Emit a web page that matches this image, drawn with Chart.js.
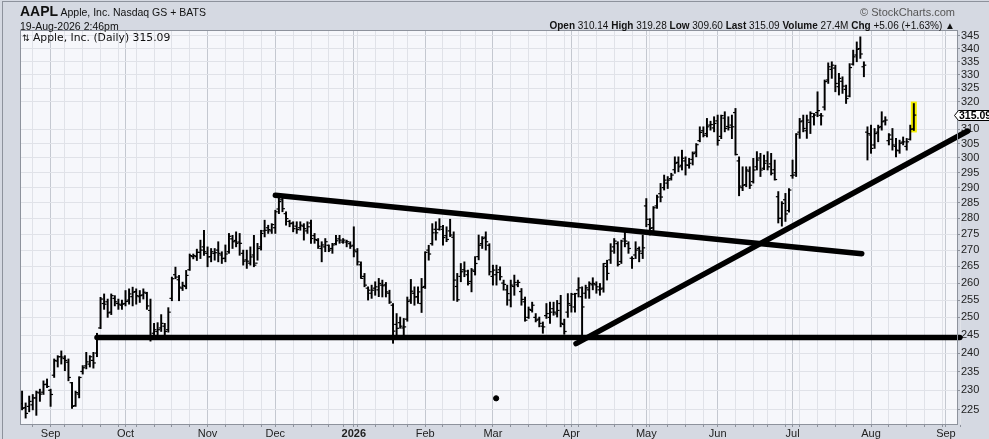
<!DOCTYPE html>
<html>
<head>
<meta charset="utf-8">
<title>AAPL Daily</title>
<script src="https://cdn.jsdelivr.net/npm/chart.js"></script>
<style>
  html, body { margin: 0; padding: 0; }
  body { width: 989px; height: 439px; background: #d5d9e2; position: relative; overflow: hidden;
         font-family: "Liberation Sans", Arial, sans-serif; color: #111; }
  #box { position: absolute; left: 0; top: 0; width: 989px; height: 439px; }
  #frame { position: absolute; left: 2px; top: 1px; width: 1000px; height: 500px;
           border-top: 1px solid #8d929c; border-left: 1px solid #8d929c; }
  .t { position: absolute; white-space: nowrap; font-size: 10.5px; line-height: 12px; }
  #sym { left: 20px; top: 5px; }
  #sym b { font-size: 14px; }
  #date { left: 20px; top: 20px; }
  #copy { right: 34px; top: 6px; color: #555; font-size: 11px; }
  #stats { right: 34px; top: 20px; font-size: 10px; }
  #legend { left: 22px; top: 32px; font-family: "DejaVu Sans"; font-size: 10.8px; }
  #legend span { font-size: 9px; }
</style>
</head>
<body>
<div id="box"><canvas id="ohlcChart"></canvas></div>
<div id="frame"></div>
<div class="t" id="sym"><b>AAPL</b> Apple, Inc. Nasdaq GS + BATS</div>
<div class="t" id="date">19-Aug-2026 2:46pm</div>
<div class="t" id="copy">© StockCharts.com</div>
<div class="t" id="stats"><b>Open</b> 310.14 <b>High</b> 319.28 <b>Low</b> 309.60 <b>Last</b> 315.09 <b>Volume</b> 27.4M <b>Chg</b> +5.06 (+1.63%) ▲</div>
<div class="t" id="legend"><span>⇅</span> Apple, Inc. (Daily) 315.09</div>

<script>
  // daily bars from 20-Aug-2025 to 19-Aug-2026 (one entry per trading day)
  const opens = [
    226.5,225.5,225.8,226.2,228.0,229.3,229.5,231.6,230.0,234.0,237.8,239.0,238.5,237.5,232.0,226.0,229.0,235.0,236.5,237.0,
    238.0,240.0,247.0,254.0,254.5,251.5,255.5,254.0,253.5,254.0,255.0,256.0,257.5,256.0,256.5,257.0,252.0,245.5,246.0,247.0,
    247.5,246.5,255.5,262.5,261.0,258.5,259.0,264.0,268.0,268.0,269.3,271.0,269.0,268.0,269.0,270.0,268.5,267.5,269.5,273.5,
    273.0,272.5,269.0,267.0,266.0,268.5,266.0,271.0,276.0,277.0,276.0,277.0,283.0,286.0,281.5,279.0,278.5,277.5,277.0,277.5,
    276.0,278.5,274.5,273.0,270.5,271.0,271.5,270.5,272.0,273.5,272.5,272.5,272.0,271.5,269.5,265.5,262.0,258.5,257.0,258.5,
    258.0,259.4,259.5,257.0,253.5,248.0,248.5,247.0,249.5,255.0,257.0,256.0,254.0,259.0,270.0,272.0,276.5,276.5,276.5,274.5,
    276.0,274.0,259.0,262.0,264.0,262.5,260.5,263.5,268.0,272.0,274.0,271.5,262.0,262.5,264.0,260.0,258.0,255.0,259.0,259.5,
    257.5,254.5,250.0,252.0,250.0,249.5,247.5,250.5,250.0,252.5,251.0,254.0,248.0,251.5,253.5,253.0,258.0,256.0,257.0,258.0,
    259.5,259.5,258.0,258.5,265.0,267.0,271.0,272.0,266.5,273.5,272.0,267.5,268.5,270.5,269.0,284.0,278.0,277.0,284.0,288.0,
    290.0,291.5,293.0,296.0,298.5,297.5,299.0,297.5,299.5,302.0,306.0,309.5,308.5,311.5,310.5,313.0,307.5,314.0,311.0,311.5,
    316.0,299.0,290.0,291.0,295.5,292.0,297.0,300.0,296.5,299.0,298.0,296.0,287.0,280.0,286.0,282.5,294.0,295.0,309.0,313.0,
    309.5,312.5,314.5,316.0,315.0,318.0,328.0,332.0,332.5,325.5,327.5,324.5,322.0,334.0,337.5,340.0,333.0,309.0,308.0,304.5,
    309.0,311.0,313.0,306.0,306.5,304.0,302.5,305.5,304.0,306.5,310.14
  ];
  const highs = [
    229.8,226.7,228.5,228.9,229.8,230.3,232.5,233.0,230.3,238.4,239.3,240.6,239.3,238.4,232.1,229.8,233.6,236.6,240.2,239.3,
    240.2,245.5,255.8,256.8,255.3,256.8,256.3,255.3,255.0,257.8,258.3,258.8,258.3,257.8,258.3,257.3,255.3,248.3,248.5,250.8,
    248.3,252.8,261.8,264.8,262.3,260.3,263.8,268.8,268.8,270.3,273.1,276.2,271.0,270.5,270.5,272.6,269.5,271.6,275.2,274.6,
    275.7,275.2,270.0,270.0,271.0,274.6,272.1,276.2,279.4,277.8,278.3,282.6,287.1,286.6,282.1,279.4,278.9,278.9,278.9,278.3,
    278.9,279.4,275.2,273.6,272.6,273.6,271.6,272.1,274.6,274.6,273.6,273.1,272.6,277.3,270.5,266.4,262.9,258.9,259.4,260.4,
    261.4,260.9,260.2,257.9,254.0,251.1,250.1,249.7,255.9,261.1,258.9,258.9,261.4,269.5,271.5,278.3,278.9,279.9,277.8,277.3,
    279.7,275.7,262.9,265.9,266.4,263.9,264.4,268.0,274.7,274.2,275.7,272.0,265.4,265.4,264.9,260.9,259.4,260.9,262.4,260.9,
    258.4,255.9,253.0,254.4,251.1,250.1,248.7,254.0,254.4,254.4,254.9,256.4,249.5,256.9,257.0,257.0,261.6,258.9,259.4,260.4,
    261.6,260.4,259.9,265.9,266.9,272.0,273.6,272.6,273.1,275.7,272.6,268.0,272.6,271.0,274.7,286.4,279.9,283.8,287.5,291.4,
    294.2,293.7,294.8,300.4,300.4,302.7,300.4,299.9,302.1,305.0,310.9,310.9,313.9,312.9,314.5,315.1,315.1,316.3,314.5,315.1,
    317.5,300.4,297.0,297.0,297.0,299.9,302.2,301.6,301.0,302.2,301.6,299.3,288.7,285.4,288.1,289.7,299.3,308.5,313.9,315.1,
    315.1,316.3,315.7,323.6,315.7,328.0,334.5,334.9,333.6,330.5,329.2,326.1,334.2,339.4,342.6,344.6,334.9,310.9,311.5,310.3,
    311.5,316.3,314.5,308.5,310.3,306.8,306.2,307.3,306.8,311.5,319.28
  ];
  const lows = [
    224.9,222.8,224.4,224.9,223.5,227.1,228.9,230.7,225.8,233.4,236.2,237.0,235.2,232.5,225.3,225.8,228.0,234.3,235.7,236.2,
    235.9,239.0,246.8,252.3,250.0,250.8,253.3,252.3,252.3,253.3,253.8,253.3,253.8,254.3,255.3,252.3,243.3,245.0,245.0,246.0,
    245.0,245.8,254.8,261.3,254.8,257.8,258.3,263.8,267.3,266.8,267.4,268.4,264.9,266.4,266.9,266.4,265.9,266.4,269.0,270.5,
    271.0,268.4,265.4,264.4,265.4,264.9,266.9,270.0,274.1,275.2,275.2,275.2,281.5,282.1,277.8,277.3,275.7,275.2,276.2,273.1,
    275.2,272.1,272.1,270.5,266.4,269.5,269.5,269.0,271.6,272.1,272.1,271.0,270.5,267.9,265.4,261.4,258.9,255.0,255.5,256.4,
    256.0,255.9,255.9,254.0,242.7,245.0,246.9,245.0,248.9,254.0,253.5,254.0,251.4,258.4,266.9,271.5,273.1,276.2,271.5,272.6,
    274.2,254.9,254.6,260.4,261.9,259.4,257.4,262.4,267.0,270.5,270.0,262.4,259.4,259.4,260.9,257.9,253.5,253.0,256.4,258.9,
    253.5,248.9,249.7,251.5,248.7,247.3,245.5,249.7,248.3,250.6,250.1,247.3,245.2,250.0,251.5,251.5,255.9,244.1,255.5,255.5,
    258.0,257.0,256.4,257.3,260.9,265.9,269.0,265.1,265.9,271.0,269.0,264.4,267.4,266.4,267.4,277.3,274.7,275.7,283.2,285.3,
    289.2,289.7,292.5,294.8,295.3,295.9,294.2,296.5,297.6,300.4,305.6,307.3,307.3,309.7,309.1,304.4,306.7,309.1,309.7,306.7,
    301.0,287.3,289.0,290.3,289.7,291.5,295.9,293.7,296.0,295.9,294.2,292.5,278.5,277.5,279.0,282.0,293.1,293.7,306.8,309.1,
    306.8,308.5,311.5,314.5,311.5,316.9,326.7,328.6,323.6,322.4,323.0,319.3,321.7,333.6,334.9,336.2,329.2,299.3,301.6,303.3,
    305.6,309.7,311.5,304.5,302.7,300.4,301.6,304.5,302.7,306.2,309.60
  ];
  const closes = [
    225.3,224.0,227.1,228.0,229.5,229.0,231.5,231.0,228.9,238.0,239.0,238.9,238.0,233.4,225.8,229.4,233.4,236.0,237.6,239.0,
    237.3,244.7,255.3,253.8,251.3,256.3,254.5,253.8,253.8,254.6,256.8,257.3,256.3,256.3,257.3,253.3,244.2,246.5,246.5,248.3,
    246.0,251.5,261.3,261.8,258.8,259.3,262.3,268.3,268.3,269.3,270.0,269.5,267.9,269.5,269.2,269.0,267.4,268.8,274.3,272.6,
    272.1,272.1,266.6,266.6,267.9,265.4,270.5,275.2,276.2,276.4,278.0,282.1,285.4,283.1,279.9,278.3,276.7,276.4,277.8,276.7,
    277.3,273.6,273.3,271.2,271.6,272.6,270.0,271.6,272.9,273.1,273.1,272.6,271.2,270.0,266.4,261.4,259.4,257.9,257.9,258.9,
    259.9,259.2,257.4,254.4,246.1,246.9,247.5,247.3,254.6,257.6,255.9,257.4,258.7,269.3,268.8,275.4,275.4,277.3,273.9,273.3,
    274.7,260.9,255.1,263.4,263.6,259.9,263.9,265.9,271.5,273.6,272.6,263.4,263.9,263.2,261.9,259.6,256.9,259.4,260.2,260.2,
    255.2,249.2,252.3,253.5,249.2,248.3,247.3,251.1,251.5,251.5,252.0,248.3,246.0,254.0,256.7,256.9,258.6,253.0,258.6,259.9,
    259.9,258.9,258.2,265.9,262.9,269.7,272.8,265.6,272.8,272.8,270.5,267.4,270.0,269.7,270.7,279.7,276.8,283.4,286.9,286.9,
    292.5,292.5,294.2,298.2,297.0,299.9,297.6,298.2,301.5,304.6,308.9,307.9,310.9,311.7,312.1,306.1,314.9,310.3,310.7,310.9,
    301.2,290.5,290.8,295.9,290.8,295.9,299.3,295.9,298.2,297.0,294.8,292.7,280.0,284.8,281.4,289.2,294.2,308.3,312.7,310.3,
    313.3,315.7,315.1,316.7,314.8,327.4,333.0,333.6,326.7,328.6,325.7,321.1,332.7,336.8,339.7,337.9,333.6,308.5,303.3,308.5,
    310.6,312.7,313.3,308.0,304.5,302.7,305.1,305.6,305.6,310.03,315.09
  ];
  const lastPrice = 315.09;

  // hand-drawn annotations: [barIndex, price]
  const supportLine = [[21, 244.3], [262.9, 244.3]];
  const resistanceLine = [[71, 287.5], [235.4, 268.9]];
  const upTrendLine = [[155.3, 242.6], [265.1, 309.4]];
  const markerDot = [[132.9, 227.9]];

  const priceTicks = [225,230,235,240,245,250,255,260,265,270,275,280,285,290,295,300,305,310,320,325,330,335,340,345];
  const monthNames = ['Jan','Feb','Mar','Apr','May','Jun','Jul','Aug','Sep','Oct','Nov','Dec'];
  const holidays = ['2025-09-01','2025-11-27','2025-12-25','2026-01-01','2026-01-19','2026-02-16',
                    '2026-04-03','2026-05-25','2026-06-19','2026-07-03','2026-09-07'];

  // trading calendar, used for the time axis gridlines and month labels
  const days = [];
  const d = new Date(Date.UTC(2025, 7, 20));
  while (days.length < 266) {
    const dow = d.getUTCDay();
    const iso = d.toISOString().slice(0, 10);
    if (dow !== 0 && dow !== 6 && !holidays.includes(iso)) {
      days.push({ dow: dow, month: d.getUTCMonth(), year: d.getUTCFullYear() });
    }
    d.setUTCDate(d.getUTCDate() + 1);
  }
  const monthLabel = {};
  const gridIdx = [];
  for (let i = 1; i < days.length; i++) {
    const newMonth = days[i].month !== days[i - 1].month;
    const newWeek = days[i].dow < days[i - 1].dow;
    if (newMonth) monthLabel[i] = days[i].month === 0 ? String(days[i].year) : monthNames[days[i].month];
    if (newMonth || newWeek) gridIdx.push(i);
  }

  const toXY = pts => pts.map(p => ({ x: p[0], y: p[1] }));

  const plotBg = {
    id: 'plotBg',
    beforeDraw(chart) {
      const { ctx, chartArea: a } = chart;
      ctx.save();
      ctx.fillStyle = '#f6f7fb';
      ctx.fillRect(a.left, a.top, a.right - a.left, a.bottom - a.top);
      ctx.restore();
    },
    beforeDatasetsDraw(chart) {
      // yellow highlight behind the latest bar
      const { ctx, scales } = chart;
      const i = closes.length - 1;
      const x = scales.x.getPixelForValue(i);
      const yH = scales.y.getPixelForValue(highs[i]);
      const yL = scales.y.getPixelForValue(lows[i]);
      ctx.save();
      ctx.fillStyle = '#f4f000';
      ctx.fillRect(x - 3, yH - 2, 6, yL - yH + 4);
      ctx.restore();
    },
    afterDraw(chart) {
      const { ctx, chartArea: a, scales } = chart;
      ctx.save();
      ctx.strokeStyle = '#8d929c';
      ctx.lineWidth = 1;
      ctx.strokeRect(a.left - 0.5, a.top - 0.5, a.right - a.left + 1, a.bottom - a.top + 1);
      // last price tag on the price axis
      const y = Math.round(scales.y.getPixelForValue(lastPrice)) + 0.5;
      const x0 = a.right - 2.5;
      ctx.beginPath();
      ctx.moveTo(x0, y);
      ctx.lineTo(x0 + 4, y - 5);
      ctx.lineTo(992, y - 5);
      ctx.lineTo(992, y + 5);
      ctx.lineTo(x0 + 4, y + 5);
      ctx.closePath();
      ctx.fillStyle = '#ffffff';
      ctx.fill();
      ctx.strokeStyle = '#000';
      ctx.stroke();
      ctx.fillStyle = '#000';
      ctx.font = 'bold 10.5px "Liberation Sans", Arial, sans-serif';
      ctx.textBaseline = 'middle';
      ctx.fillText(lastPrice.toFixed(2), x0 + 4.5, y + 0.5);
      ctx.restore();
    }
  };

  const lineStyle = {
    type: 'line', borderColor: '#000', borderWidth: 5.5, borderCapStyle: 'round',
    pointRadius: 0, fill: false, clip: false, order: 0
  };

  new Chart(document.getElementById('ohlcChart'), {
    type: 'bar',
    data: {
      datasets: [
        { type: 'bar', data: highs.map((h, i) => ({ x: i, y: [lows[i], h] })),
          backgroundColor: '#000', barThickness: 1.3, grouped: false, order: 3 },
        { type: 'scatter', data: opens.map((o, i) => ({ x: i - 0.33, y: o })),
          pointStyle: 'line', pointRadius: 1.25, borderWidth: 1.2, borderColor: '#000', order: 2 },
        { type: 'scatter', data: closes.map((c, i) => ({ x: i + 0.33, y: c })),
          pointStyle: 'line', pointRadius: 1.25, borderWidth: 1.2, borderColor: '#000', order: 2 },
        Object.assign({ data: toXY(supportLine) }, lineStyle),
        Object.assign({ data: toXY(resistanceLine) }, lineStyle),
        Object.assign({ data: toXY(upTrendLine) }, lineStyle),
        { type: 'scatter', data: toXY(markerDot), pointRadius: 2.6, backgroundColor: '#000',
          borderColor: '#000', order: 0 }
      ]
    },
    options: {
      responsive: true,
      maintainAspectRatio: false,
      animation: false,
      events: [],
      layout: { padding: { left: 21, top: 31, right: 0, bottom: 0 } },
      plugins: { legend: { display: false }, tooltip: { enabled: false } },
      scales: {
        x: {
          type: 'linear', min: -0.3, max: 262.1, offset: false,
          afterBuildTicks: s => { s.ticks = gridIdx.map(v => ({ value: v })); },
          afterFit: s => { s.height = 15; },
          grid: {
            offset: false,
            color: c => (c.tick && monthLabel[c.tick.value]) ? '#c4c8d0' : '#e0e2e8',
            drawTicks: true, tickLength: 3, tickColor: '#8d929c'
          },
          border: { display: true, color: '#8d929c' },
          ticks: {
            autoSkip: false, maxRotation: 0, padding: 0, color: '#222',
            font: c => ({ size: 11, family: '"Liberation Sans", Arial, sans-serif',
                          weight: (c.tick && monthLabel[c.tick.value] === '2026') ? 'bold' : 'normal' }),
            callback: v => monthLabel[v] || ''
          }
        },
        y: {
          type: 'logarithmic', position: 'right', min: 221.3, max: 346.9,
          afterBuildTicks: s => { s.ticks = priceTicks.map(v => ({ value: v })); },
          afterFit: s => { s.width = 32; },
          grid: { color: '#e0e2e8', drawTicks: true, tickLength: 3, tickColor: '#8d929c' },
          border: { display: true, color: '#8d929c' },
          ticks: {
            padding: 1, color: '#222',
            font: { size: 11, family: '"Liberation Sans", Arial, sans-serif' },
            callback: v => String(v)
          }
        }
      }
    },
    plugins: [plotBg]
  });
</script>
</body>
</html>
